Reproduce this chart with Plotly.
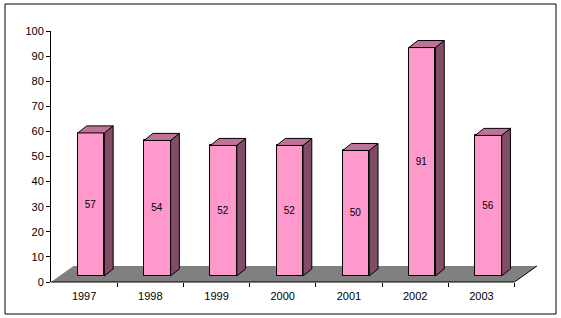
import plotly.graph_objects as go

# ---- data ----
years = ["1997", "1998", "1999", "2000", "2001", "2002", "2003"]
values = [57, 54, 52, 52, 50, 91, 56]
y_ticks = list(range(0, 101, 10))

# ---- style / geometry (pseudo-3D look) ----
FRONT = "#FF99CC"
SIDE = "#804C66"
TOP = "#BF7399"
FLOOR = "#808080"
W, H = 561, 318
ML, MR, MT, MB = 51, 24, 31, 36
BAR_W = 0.40      # bar width (category units)
BAR_SHIFT = 0.106 # bar sits partly into the floor depth
BASE = 2.4        # front face raised by depth (value units)
DX, DY = 0.133, 2.8   # bar depth
FDX, FDY = 0.34, 6.4  # floor depth

n = len(years)
idx = list(range(n))
xs = [i + BAR_SHIFT for i in idx]
x_lo, x_hi = -0.5, n - 0.5

fig = go.Figure()

# floor
fig.add_shape(type="path", xref="x", yref="y", layer="below",
              path=f"M {x_lo},0 L {x_hi},0 L {x_hi+FDX},{FDY} L {x_lo+FDX},{FDY} Z",
              fillcolor=FLOOR, line=dict(width=0))
fig.add_shape(type="line", xref="x", yref="y", x0=x_hi, y0=0, x1=x_hi + FDX, y1=FDY,
              line=dict(color="black", width=1))

# front faces
fig.add_trace(go.Bar(
    x=xs, y=values, base=BASE, width=BAR_W,
    marker=dict(color=FRONT, line=dict(color="black", width=1)),
    text=[str(v) for v in values], textposition="inside", insidetextanchor="middle",
    textangle=0, textfont=dict(family="Liberation Sans, Arial", size=10, color="black"),
    hoverinfo="skip", showlegend=False,
))

# side and top faces
for xc, v in zip(xs, values):
    xl, xr = xc - BAR_W / 2, xc + BAR_W / 2
    top = BASE + v
    fig.add_trace(go.Scatter(
        x=[xr, xr + DX, xr + DX, xr, xr], y=[BASE, BASE + DY, top + DY, top, BASE],
        fill="toself", fillcolor=SIDE, mode="lines", line=dict(color="black", width=1),
        hoverinfo="skip", showlegend=False))
    fig.add_trace(go.Scatter(
        x=[xl, xl + DX, xr + DX, xr, xl], y=[top, top + DY, top + DY, top, top],
        fill="toself", fillcolor=TOP, mode="lines", line=dict(color="black", width=1),
        hoverinfo="skip", showlegend=False))

# x axis line (only across the categories)
fig.add_shape(type="line", xref="x", yref="paper", x0=x_lo, x1=x_hi, y0=0, y1=0,
              line=dict(color="black", width=1))

# outer frame
pw, ph = W - ML - MR, H - MT - MB
fig.add_shape(type="rect", xref="paper", yref="paper",
              x0=(5 - ML) / pw, x1=(556 - ML) / pw,
              y0=-(314 - (H - MB)) / ph, y1=((H - MB) - 4) / ph,
              line=dict(color="black", width=1), fillcolor="rgba(0,0,0,0)")

fig.update_layout(
    width=W, height=H, margin=dict(l=ML, r=MR, t=MT, b=MB),
    paper_bgcolor="white", plot_bgcolor="white",
    font=dict(family="Liberation Sans, Arial", size=11, color="black"),
    showlegend=False, bargap=0,
    xaxis=dict(range=[x_lo, x_hi + FDX], showline=False, showgrid=False, zeroline=False,
               tickmode="array", tickvals=idx, ticktext=years,
               ticks="outside", ticklen=4, tickcolor="rgba(0,0,0,0)",
               minor=dict(tickmode="array", tickvals=[i + 0.5 for i in idx],
                          ticks="outside", ticklen=4, tickcolor="black", tickwidth=1),
               fixedrange=True),
    yaxis=dict(range=[0, 100], tickmode="array", tickvals=y_ticks,
               showline=True, linecolor="black", linewidth=1,
               ticks="outside", ticklen=4, tickcolor="black",
               showgrid=False, zeroline=False, fixedrange=True),
)

fig.write_html("out.html")
